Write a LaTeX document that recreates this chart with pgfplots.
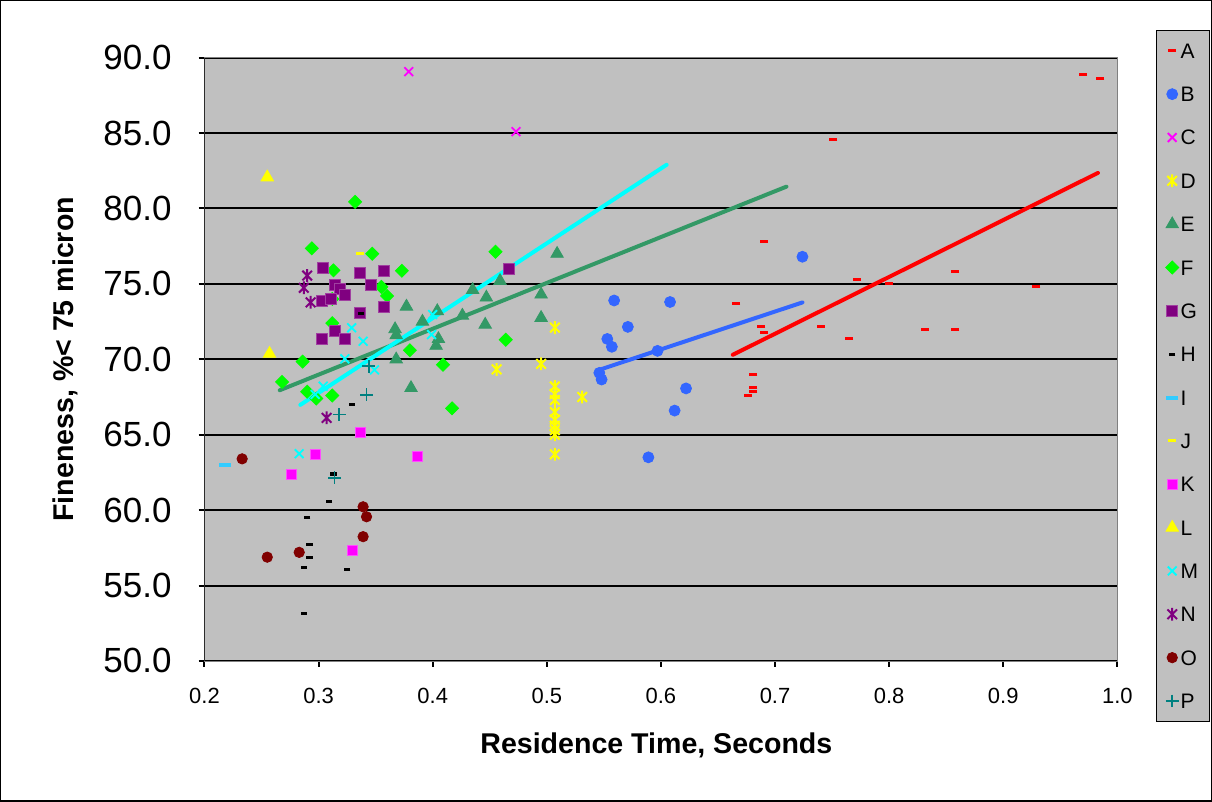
\documentclass[border=0pt]{standalone}
\usepackage{pgfplots}
\pgfplotsset{compat=1.18}
\usepackage{fontspec}
\setmainfont{Liberation Sans}
\definecolor{plotgray}{RGB}{192,192,192}
\definecolor{cA}{RGB}{255,0,0}
\definecolor{cB}{RGB}{51,102,255}
\definecolor{cC}{RGB}{255,0,255}
\definecolor{cD}{RGB}{255,255,0}
\definecolor{cE}{RGB}{51,153,102}
\definecolor{cF}{RGB}{0,255,0}
\definecolor{cG}{RGB}{128,0,128}
\definecolor{cH}{RGB}{0,0,0}
\definecolor{cI}{RGB}{51,204,255}
\definecolor{cK}{RGB}{255,0,255}
\definecolor{cM}{RGB}{0,255,255}
\definecolor{cO}{RGB}{128,0,0}
\definecolor{cP}{RGB}{0,128,128}
\pgfdeclareplotmark{xstar}{%
 \pgfpathmoveto{\pgfqpoint{-.75\pgfplotmarksize}{-.75\pgfplotmarksize}}%
 \pgfpathlineto{\pgfqpoint{.75\pgfplotmarksize}{.75\pgfplotmarksize}}%
 \pgfpathmoveto{\pgfqpoint{-.75\pgfplotmarksize}{.75\pgfplotmarksize}}%
 \pgfpathlineto{\pgfqpoint{.75\pgfplotmarksize}{-.75\pgfplotmarksize}}%
 \pgfpathmoveto{\pgfqpoint{0pt}{-\pgfplotmarksize}}%
 \pgfpathlineto{\pgfqpoint{0pt}{\pgfplotmarksize}}%
 \pgfusepathqstroke}
\begin{document}
\begin{tikzpicture}
\begin{axis}[
  scale only axis, width=457pt, height=302pt,
  xmin=0.2, xmax=1.0, ymin=50, ymax=90,
  xtick={0.2,0.3,0.4,0.5,0.6,0.7,0.8,0.9,1.0},
  ytick={50,55,60,65,70,75,80,85,90},
  ymajorgrids, grid style={black, line width=1pt},
  axis background/.style={fill=plotgray},
  axis line style={draw=gray, line width=0.6pt},
  xtick pos=bottom, ytick pos=left,
  tick align=outside, major tick length=3pt,
  tick style={black, line width=1pt},
  /pgf/number format/assume math mode=true,
  xticklabel style={font=\fontsize{11}{13}\selectfont, yshift=-7pt, /pgf/number format/.cd, fixed, fixed zerofill, precision=1},
  yticklabel style={font=\fontsize{17.5}{20}\selectfont, xshift=-10pt, /pgf/number format/.cd, fixed, fixed zerofill, precision=1},
  xlabel={Residence Time, Seconds},
  ylabel={Fineness, \%< 75 micron},
  xlabel style={font=\bfseries\fontsize{14.3}{16}\selectfont, at={(axis description cs:0.495,-0.14)}, anchor=center},
  ylabel style={font=\bfseries\fontsize{14.3}{16}\selectfont, at={(axis description cs:-0.152,0.5)}, anchor=center},
  legend style={at={(axis description cs:1.0427,1.046)}, anchor=north west, fill=plotgray, draw=black,
    font=\fontsize{10.5}{12}\selectfont, inner xsep=4.5pt, inner ysep=5.5pt, row sep=12.2pt,
    nodes={inner sep=1pt, text height=7.5pt, text depth=0pt}},
  legend cell align=left,
  legend image code/.code={\draw[mark repeat=2,mark phase=2,#1] plot coordinates {(0pt,0pt) (5pt,0pt) (10pt,0pt)};},
]
% A
\addplot[only marks, mark=-, color=cA, line width=1.5pt, mark size=2pt] coordinates {
(0.970,88.9) (0.985,88.65) (0.751,84.6) (0.690,77.8) (0.772,75.27) (0.800,75.0) (0.858,75.8) (0.929,74.8)
(0.666,73.7) (0.688,72.2) (0.690,71.8) (0.740,72.2) (0.765,71.4) (0.831,71.95) (0.858,71.95)
(0.681,69.0) (0.681,68.1) (0.681,67.85) (0.676,67.6)};
\addlegendentry{A}
% B
\addplot[only marks, mark=*, color=cB, mark size=2.75pt] coordinates {
(0.559,73.9) (0.608,73.8) (0.724,76.8) (0.571,72.15) (0.553,71.35) (0.557,70.83) (0.597,70.56)
(0.546,69.1) (0.548,68.66) (0.622,68.07) (0.612,66.6) (0.589,63.5)};
\addlegendentry{B}
% C
\addplot[only marks, mark=x, color=cC, line width=0.9pt, mark size=3.1pt] coordinates {
(0.379,89.07) (0.473,85.1)};
\addlegendentry{C}
% D
\addplot[only marks, mark=xstar, color=cD, line width=1pt, mark size=3.2pt] coordinates {
(0.507,72.1) (0.495,69.7) (0.456,69.33) (0.531,67.5) (0.507,68.2) (0.507,67.7) (0.507,67.3)
(0.507,66.5) (0.507,66.0) (0.507,65.6) (0.507,65.3) (0.507,65.0) (0.507,63.7)};
\addlegendentry{D}
% E
\addplot[only marks, mark=triangle*, color=cE, mark size=3.6pt] coordinates {
(0.367,72.0) (0.368,71.6) (0.368,70.0) (0.377,73.5) (0.381,68.1) (0.391,72.5) (0.404,73.2)
(0.405,71.35) (0.403,70.9) (0.426,72.9) (0.435,74.6) (0.447,74.1) (0.446,72.3) (0.459,75.2)
(0.495,74.3) (0.495,72.75) (0.509,77.0)};
\addlegendentry{E}
% F
\addplot[only marks, mark=square*, mark options={rotate=45}, color=cF, mark size=2.3pt] coordinates {
(0.268,68.5) (0.286,69.85) (0.290,67.85) (0.294,77.36) (0.298,67.4) (0.312,67.6) (0.312,72.4)
(0.312,74.0) (0.313,75.9) (0.332,80.44) (0.347,77.0) (0.355,74.8) (0.360,74.2) (0.373,75.87)
(0.380,70.6) (0.409,69.64) (0.417,66.75) (0.455,77.13) (0.464,71.3)};
\addlegendentry{F}
% G
\addplot[only marks, mark=square*, color=cG, mark options={fill=cG, draw=cG!75!white}, mark size=2.75pt] coordinates {
(0.304,76.06) (0.336,75.75) (0.357,75.86) (0.314,74.96) (0.319,74.67) (0.323,74.3) (0.346,74.96)
(0.303,73.9) (0.311,74.0) (0.336,73.08) (0.357,73.48) (0.314,71.91) (0.303,71.38) (0.323,71.38)
(0.467,76.0)};
\addlegendentry{G}
% H
\addplot[only marks, mark=-, color=cH, line width=1.6pt, mark size=1.6pt] coordinates {
(0.287,53.13) (0.287,56.2) (0.292,56.84) (0.292,57.73) (0.290,59.5) (0.309,60.56) (0.313,62.4)
(0.325,56.05) (0.329,67.0) (0.337,73.05)};
\addlegendentry{H}
% I
\addplot[only marks, mark=-, color=cI, line width=2pt, mark size=3pt] coordinates {
(0.218,62.96)};
\addlegendentry{I}
% J
\addplot[only marks, mark=-, color=cD, line width=1.5pt, mark size=2pt] coordinates {
(0.336,77.0)};
\addlegendentry{J}
% K
\addplot[only marks, mark=square*, color=cK, mark options={fill=cK, draw=cK!70!white}, mark size=2.5pt] coordinates {
(0.337,65.13) (0.297,63.67) (0.276,62.35) (0.387,63.58) (0.330,57.3)};
\addlegendentry{K}
% L
\addplot[only marks, mark=triangle*, color=cD, mark size=3.6pt] coordinates {
(0.255,82.07) (0.257,70.37)};
\addlegendentry{L}
% M
\addplot[only marks, mark=x, color=cM, line width=0.9pt, mark size=3.1pt] coordinates {
(0.283,63.74) (0.297,67.67) (0.304,68.22) (0.323,70.03) (0.329,72.09) (0.339,71.2) (0.349,69.3)
(0.399,71.64) (0.400,72.97)};
\addlegendentry{M}
% N
\addplot[only marks, mark=xstar, color=cG, line width=1pt, mark size=3.2pt] coordinates {
(0.290,75.55) (0.287,74.74) (0.293,73.78) (0.307,66.12)};
\addlegendentry{N}
% O
\addplot[only marks, mark=*, color=cO, mark size=2.6pt] coordinates {
(0.233,63.4) (0.339,60.22) (0.342,59.56) (0.339,58.24) (0.283,57.2) (0.255,56.88)};
\addlegendentry{O}
% P
\addplot[only marks, mark=+, color=cP, line width=0.9pt, mark size=3.2pt] coordinates {
(0.344,69.54) (0.342,67.65) (0.318,66.34) (0.314,62.15)};
\addlegendentry{P}
% trend lines
\addplot[forget plot, no marks, color=cE, line width=2pt, line cap=round] coordinates {(0.266,67.95) (0.710,81.45)};
\addplot[forget plot, no marks, color=cM, line width=2pt, line cap=round] coordinates {(0.284,66.98) (0.605,82.9)};
\addplot[forget plot, no marks, color=cB, line width=2pt, line cap=round, line join=round] coordinates {(0.5446,69.1) (0.5467,69.32) (0.724,73.77)};
\addplot[forget plot, no marks, color=cA, line width=2pt, line cap=round] coordinates {(0.663,70.3) (0.983,82.36)};
\draw[black, line width=1pt] (rel axis cs:0,1) -- (rel axis cs:0,0) -- (rel axis cs:1,0);
\end{axis}
\draw[black, line width=0.75pt] (-102pt,-70pt) rectangle (504pt,330.5pt);
\end{tikzpicture}
\end{document}
